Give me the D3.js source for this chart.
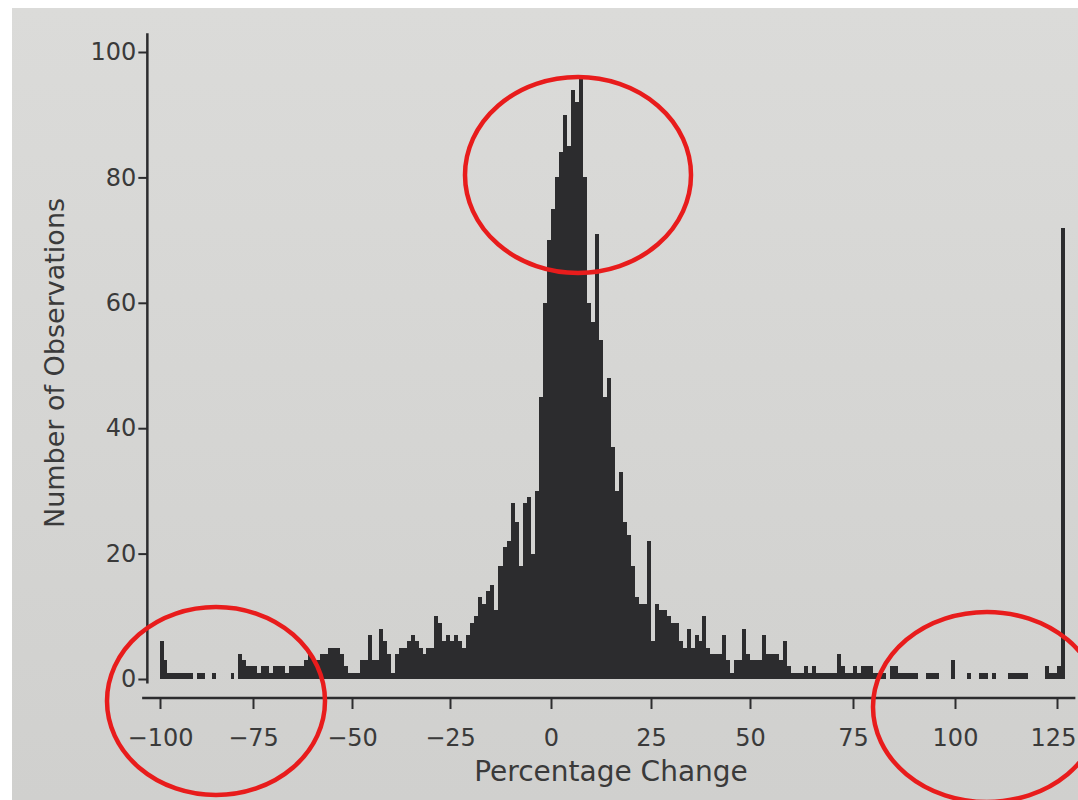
<!DOCTYPE html>
<html lang="en">
<head>
  <meta charset="UTF-8">
  <title>Percentage Change histogram</title>
  <script src="https://cdn.jsdelivr.net/npm/d3@7"></script>
  <style>
    body { margin: 0; background: #fff; }
    text { font-family: "DejaVu Sans", "Liberation Sans", Arial, sans-serif; }
  </style>
</head>
<body>
  <svg id="chart" width="1078" height="800"></svg>
  <script>
    // one bin per percentage point, first bin starts at -100
    const firstBin = -100;
    const counts = [
      // -100 .. -76
      6,3,1,1,1,1,1,1,1,0,1,1,0,0,1,0,0,0,0,1,0,4,3,2,2,
      // -75 .. -51
      2,1,2,2,1,2,2,2,1,2,2,2,2,3,4,3,3,4,4,5,5,5,4,2,1,
      // -50 .. -26
      1,1,3,3,7,3,3,8,6,4,1,4,5,5,6,7,6,5,4,5,5,10,9,6,7,
      // -25 .. -1
      6,7,6,5,7,9,10,13,12,14,15,11,18,21,22,28,25,18,28,29,20,30,45,60,70,
      // 0 .. 24
      75,80,84,90,85,94,92,96,80,60,57,71,54,45,48,37,30,33,25,23,18,13,12,12,22,
      // 25 .. 49
      6,12,11,11,10,9,9,6,5,8,5,7,6,10,5,4,4,4,7,3,1,3,3,8,4,
      // 50 .. 74
      3,3,3,7,4,4,4,3,6,2,1,1,1,2,1,2,1,1,1,1,1,4,2,1,1,
      // 75 .. 99
      2,1,2,2,2,1,1,1,0,2,2,1,1,1,1,1,0,0,1,1,1,0,0,0,3,
      // 100 .. 126 (last bin holds everything above)
      0,0,0,1,0,0,1,1,0,1,0,0,0,1,1,1,1,1,0,0,0,0,2,1,1,2,72
    ];
    const xTicks = [-100, -75, -50, -25, 0, 25, 50, 75, 100, 125];
    const yTicks = [0, 20, 40, 60, 80, 100];

    const bins = counts.map((c, i) => ({ x0: firstBin + i, x1: firstBin + i + 1, n: c }));

    const svg = d3.select('#chart');

    // paper
    const grad = svg.append('defs').append('linearGradient')
      .attr('id', 'paper').attr('x1', 0).attr('y1', 0).attr('x2', 0).attr('y2', 1);
    grad.append('stop').attr('offset', '0%').attr('stop-color', '#dbdbd9');
    grad.append('stop').attr('offset', '100%').attr('stop-color', '#d0d0ce');
    svg.append('rect').attr('x', 12).attr('y', 8).attr('width', 1066).attr('height', 792)
      .attr('fill', 'url(#paper)');

    // the printed page is photographed slightly off-axis, so the tick spacing
    // is not quite even; a piecewise scale follows it
    const x = d3.scaleLinear()
      .domain(xTicks)
      .range([160, 253, 352, 450, 551, 651, 750, 853, 955, 1057]);
    const y = d3.scaleLinear().domain([0, 100]).range([679, 52]);

    const ink = '#2c2c2e';
    const textInk = '#3a3a3a';

    // bars
    svg.append('g')
      .attr('shape-rendering', 'crispEdges')
      .selectAll('rect')
      .data(bins.filter(d => d.n > 0))
      .join('rect')
      .attr('x', d => x(d.x0))
      .attr('width', d => x(d.x1) - x(d.x0))
      .attr('y', d => y(d.n))
      .attr('height', d => y(0) - y(d.n))
      .attr('fill', ink);

    // y axis
    const yAxis = svg.append('g')
      .attr('transform', `translate(${x(-103.4)},0)`)
      .call(d3.axisLeft(y).tickValues(yTicks).tickSize(9).tickPadding(2).tickSizeOuter(0));
    yAxis.select('.domain').remove();
    yAxis.append('line')
      .attr('y1', y(-0.7)).attr('y2', y(103))
      .attr('stroke', ink).attr('stroke-width', 2.5);

    // x axis
    const xAxisY = 698;
    const xAxis = svg.append('g')
      .attr('transform', `translate(0,${xAxisY})`)
      .call(d3.axisBottom(x).tickValues(xTicks).tickSize(11).tickPadding(20).tickSizeOuter(0));
    xAxis.select('.domain').remove();
    xAxis.append('line')
      .attr('x1', x(-104.8)).attr('x2', x(129.5))
      .attr('stroke', ink).attr('stroke-width', 2.5);

    svg.selectAll('.tick line').attr('stroke', ink).attr('stroke-width', 2);
    svg.selectAll('.tick text')
      .attr('fill', textInk)
      .style('font-size', '24px')
      .style('font-family', '"DejaVu Sans", "Liberation Sans", Arial, sans-serif');
    // last label sits right at the page edge, keep it inside
    xAxis.selectAll('.tick text').filter(d => d === 125).attr('dx', -4);

    // axis titles
    svg.append('text')
      .attr('transform', 'translate(64,363) rotate(-90)')
      .attr('text-anchor', 'middle')
      .attr('fill', textInk)
      .style('font-size', '27px')
      .text('Number of Observations');

    svg.append('text')
      .attr('x', 611)
      .attr('y', 781)
      .attr('text-anchor', 'middle')
      .attr('fill', textInk)
      .style('font-size', '28px')
      .text('Percentage Change');

    // red marker circles drawn on the photo
    const marks = [
      { cx: 578, cy: 175, rx: 113, ry: 98 },
      { cx: 216, cy: 701, rx: 109, ry: 94 },
      { cx: 987, cy: 707, rx: 114, ry: 95 }
    ];
    svg.append('g')
      .selectAll('ellipse')
      .data(marks)
      .join('ellipse')
      .attr('cx', d => d.cx).attr('cy', d => d.cy)
      .attr('rx', d => d.rx).attr('ry', d => d.ry)
      .attr('fill', 'none')
      .attr('stroke', '#e81c1c')
      .attr('stroke-width', 4.5);
  </script>
</body>
</html>
